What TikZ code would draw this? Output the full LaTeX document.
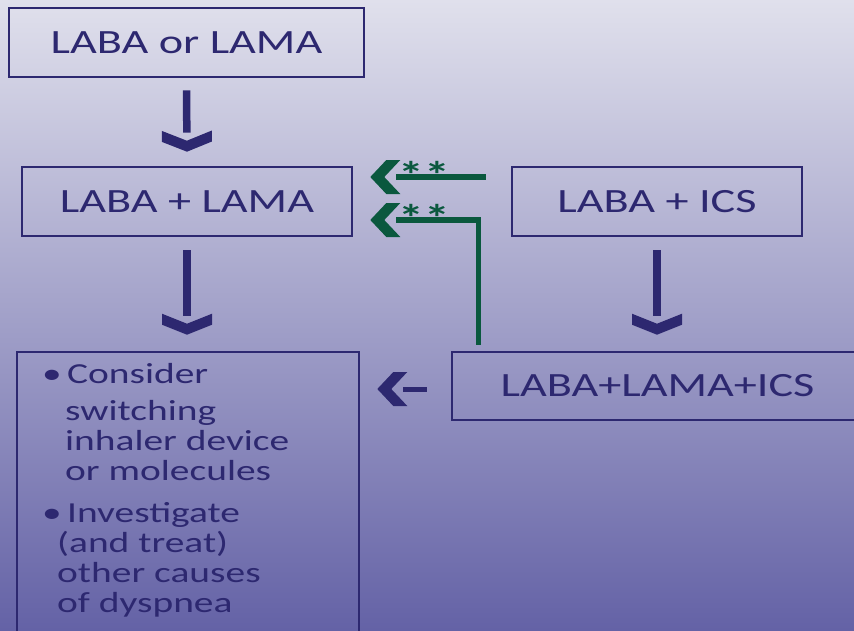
\documentclass[tikz,border=0pt]{standalone}
\usepackage{fontspec}
\setmainfont{Carlito}[FakeStretch=1.36]
\usepackage{tikz}
\usetikzlibrary{arrows.meta}

\definecolor{navy}{RGB}{45,40,112}
\definecolor{deepgreen}{RGB}{10,88,62}
\definecolor{bgtop}{RGB}{224,224,236}
\definecolor{bgbottom}{RGB}{100,98,166}

% flat chevron heads
\pgfdeclarearrow{
  name = Chevdown,
  parameters = {},
  setup code = {
    \pgfarrowssettipend{0pt}
    \pgfarrowssetlineend{-19pt}
    \pgfarrowssetvisualbackend{-21pt}
    \pgfarrowssetbackend{-21pt}
    \pgfarrowshullpoint{0pt}{0pt}
    \pgfarrowsupperhullpoint{-21pt}{25pt}
  },
  drawing code = {
    \pgfpathmoveto{\pgfpointorigin}
    \pgfpathlineto{\pgfpoint{-10pt}{25pt}}
    \pgfpathlineto{\pgfpoint{-21pt}{25pt}}
    \pgfpathlineto{\pgfpoint{-11pt}{0pt}}
    \pgfpathlineto{\pgfpoint{-21pt}{-25pt}}
    \pgfpathlineto{\pgfpoint{-10pt}{-25pt}}
    \pgfpathclose
    \pgfusepathqfill
  }
}
\pgfdeclarearrow{
  name = Chevleft,
  parameters = {},
  setup code = {
    \pgfarrowssettipend{0pt}
    \pgfarrowssetlineend{-26pt}
    \pgfarrowssetvisualbackend{-30pt}
    \pgfarrowssetbackend{-30pt}
    \pgfarrowshullpoint{0pt}{0pt}
    \pgfarrowsupperhullpoint{-30pt}{17pt}
  },
  drawing code = {
    \pgfpathmoveto{\pgfpointorigin}
    \pgfpathlineto{\pgfpoint{-16pt}{17pt}}
    \pgfpathlineto{\pgfpoint{-30pt}{17pt}}
    \pgfpathlineto{\pgfpoint{-14pt}{0pt}}
    \pgfpathlineto{\pgfpoint{-30pt}{-17pt}}
    \pgfpathlineto{\pgfpoint{-16pt}{-17pt}}
    \pgfpathclose
    \pgfusepathqfill
  }
}

\tikzset{
  box/.style={draw=navy, line width=2.6pt, text=navy, inner sep=0pt,
    font=\fontsize{34}{40}\selectfont, minimum height=69pt},
  advice/.style={text=navy, align=left, inner sep=0pt,
    font=\fontsize{29}{30}\selectfont},
  down/.style={draw=navy, line width=7.5pt, -{Chevdown}},
  back/.style={draw=navy, line width=5pt, -{Chevleft}},
  switch/.style={draw=deepgreen, line width=5.5pt, -{Chevleft}},
  stars/.style={text=deepgreen, inner sep=0pt, anchor=base,
    font=\bfseries\fontsize{38}{38}\selectfont}
}

\begin{document}
\begin{tikzpicture}[x=1pt, y=-1pt]

\useasboundingbox (0,0) rectangle (854,630);
\clip (0,0) rectangle (854,630);
\shade[top color=bgtop, bottom color=bgbottom] (0,0) rectangle (854,630);

\node[box, minimum width=355pt] (lone) at (186.5,42.5) {LABA or LAMA};
\node[box, minimum width=330pt] (dual) at (187,201.5) {LABA + LAMA};
\node[box, minimum width=290pt] (icsdual) at (657,201.5) {LABA + ICS};
\node[box, minimum width=411pt, minimum height=68pt] (triple) at (657.5,386) {LABA+LAMA+ICS};
\node[box, minimum width=342pt, minimum height=298pt] (other) at (188,501) {};

% base anchor sits on the last line
\node[advice, anchor=base west] (steps) at (42,612) {%
\makebox[25pt][l]{\textbullet}Consider\\[7pt]
\hspace*{23pt}switching\\
\hspace*{23pt}inhaler device\\
\hspace*{23pt}or molecules\\[12pt]
\makebox[25pt][l]{\textbullet}Investigate\\
\hspace*{15pt}(and treat)\\
\hspace*{15pt}other causes\\
\hspace*{15pt}of dyspnea};

\draw[down] ([yshift=-12pt]lone.south) -- ([yshift=14pt]dual.north);
\draw[down] ([yshift=-13pt]dual.south) -- ([yshift=16pt]other.north -| dual.south);
\draw[down] ([yshift=-13pt]icsdual.south) -- ([yshift=16pt]triple.north -| icsdual.south);
\draw[back] ([xshift=-24pt,yshift=-3pt]triple.west) -- ([xshift=17pt,yshift=-3pt]triple.west -| other.east);

\draw[switch] ([xshift=-25pt,yshift=24.5pt]icsdual.west) -- ([xshift=17pt,yshift=24.5pt]dual.east)
  node[stars, pos=0.53, yshift=-11pt] {**};
\draw[switch] ([xshift=28pt,yshift=6pt]triple.north west) |- ([xshift=17pt,yshift=-18.5pt]dual.east)
  node[stars, pos=0.75, yshift=-11pt] {**};

\end{tikzpicture}
\end{document}
